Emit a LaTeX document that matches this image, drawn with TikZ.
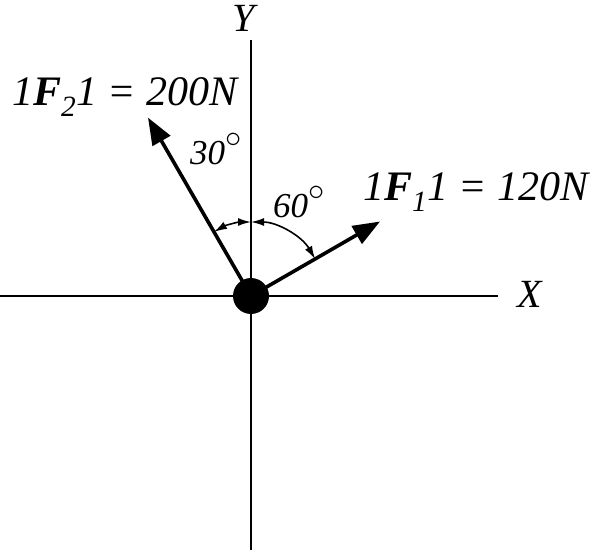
\documentclass[tikz,border=0pt]{standalone}
\usepackage{fontspec}
\setmainfont{Liberation Serif}
\usetikzlibrary{arrows.meta,calc}
\begin{document}
\begin{tikzpicture}[x=1pt,y=1pt,
  axis/.style={line width=1.8pt},
  force/.style={line width=3.6pt,-{Triangle[length=27pt,width=20pt]}},
  anglearc/.style={line width=1.6pt,{Latex[length=13pt,width=8pt]}-{Latex[length=13pt,width=8pt]}},
  lbl/.style={font=\fontsize{42}{44}\selectfont\itshape, inner sep=0pt},
  axlbl/.style={font=\fontsize{40}{42}\selectfont\itshape, inner sep=0pt},
  anglbl/.style={font=\fontsize{35}{37}\selectfont\itshape, inner sep=0pt}]
\useasboundingbox (0,0) rectangle (592,550);
\coordinate (O) at (251,254);
\coordinate (ytop) at (251,510);
\coordinate (ybot) at (251,0);
\coordinate (xl) at (0,254);
\coordinate (xr) at (498,254);
\draw[axis] (ybot) -- (ytop);
\draw[axis] (xl) -- (xr);
\coordinate (F2tip) at ($(O)+(120:206)$);
\coordinate (F1tip) at ($(O)+(30:149)$);
\draw[force] (O) -- (F2tip);
\draw[force] (O) -- (F1tip);
\node[circle, fill=black, minimum size=36pt, inner sep=0pt] (dot) at (O) {};
\draw[anglearc] ($(O)+(120:74)$) arc[start angle=120, end angle=90, radius=74];
\draw[anglearc] ($(O)+(90:74)$) arc[start angle=90, end angle=30, radius=74];
\node[axlbl] (ylab) at (244,532) {Y};
\node[axlbl] (xlab) at (530,256) {X};
\node[anglbl] (a30) at (216,401) {30\raisebox{6pt}{\scalebox{1.3}{$^{\circ}$}}};
\node[anglbl] (a60) at (299,348) {60\raisebox{6pt}{\scalebox{1.3}{$^{\circ}$}}};
\node[lbl, anchor=west] (f2lab) at (12,453) {1\textbf{F}\textsubscript{2}1 = 200N};
\node[lbl, anchor=east] (f1lab) at (589,358) {1\textbf{F}\textsubscript{1}1 = 120N};
\end{tikzpicture}
\end{document}
